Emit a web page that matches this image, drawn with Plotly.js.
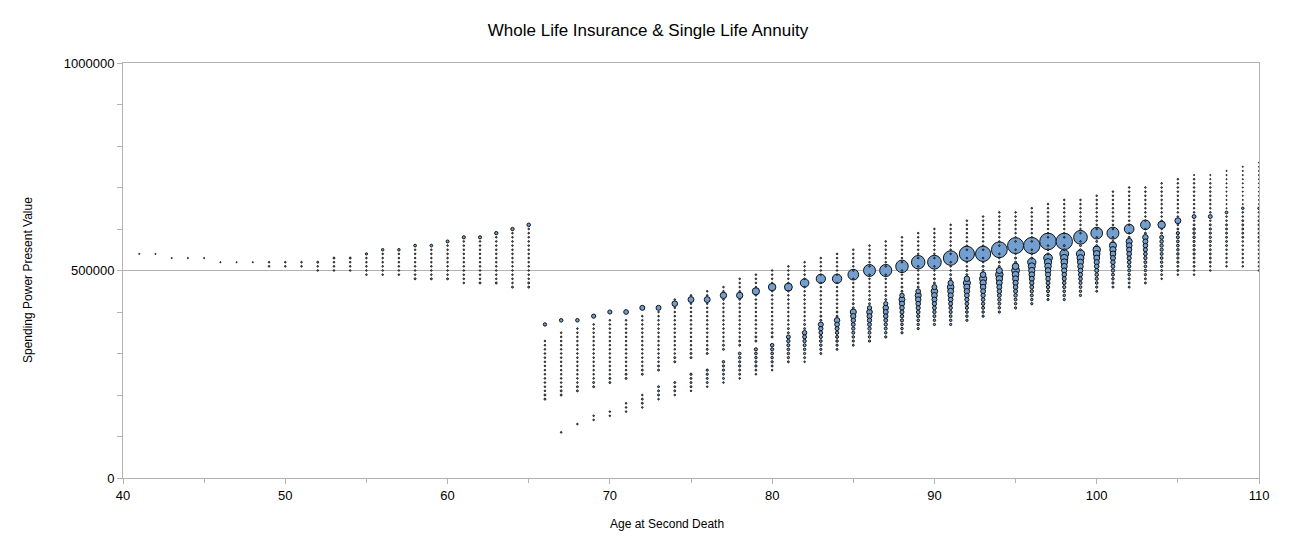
<!DOCTYPE html>
<html>
<head>
<meta charset="utf-8">
<script src="https://cdn.plot.ly/plotly-3.0.1.min.js"></script>
<style>
html,body{margin:0;padding:0;background:#fff;}
#chart{width:1296px;height:552px;}
</style>
</head>
<body>
<div id="chart"></div>
<script>
// Age at second death (one column of bins per age)
const ages = [41,42,43,44,45,46,47,48,49,50,51,52,53,54,55,56,57,58,59,60,61,62,63,64,65,
  66,67,68,69,70,71,72,73,74,75,76,77,78,79,80,81,82,83,84,85,86,87,88,89,90,
  91,92,93,94,95,96,97,98,99,100,101,102,103,104,105,106,107,108,109,110];

// Top bin of each column (present value, thousands)
const topValueK = [540,540,530,530,530,520,520,520,520,520,520,520,530,530,540,550,550,560,560,570,580,580,590,600,610,
  370,380,380,390,400,400,410,410,430,440,450,460,480,490,500,510,520,530,540,550,560,570,580,590,600,
  610,620,630,640,640,650,660,670,670,680,690,700,700,710,720,730,730,740,750,760];

// Bin width (thousands)
const binStepK = 10;

// Frequency of each bin, from the top bin downwards (0 = empty bin)
const binCounts = [
  [1],[1],[1],[1],[1],[1],[1],[1],
  [2,2],[2,2],[2,2],
  [3,2,2],
  [3,2,2,2],[3,2,2,2],
  [4,2,2,2,2,2],
  [5,2,2,2,2,2,2],[5,2,2,2,2,2,2],
  [6,2,2,2,2,2,2,2,3],[6,2,2,2,2,2,2,2,3],
  [7,2,2,2,2,2,2,2,2,3],
  [8,2,2,2,2,2,2,2,2,2,2,2],
  [8,2,2,2,2,2,2,2,2,2,2,3],
  [9,2,2,2,2,2,2,2,2,2,2,2,3],
  [9,2,2,2,2,2,2,2,2,2,2,2,2,2,3],
  [10,2,2,2,2,2,2,2,2,2,2,2,2,2,3,3],
  // 66
  [9,0,0,0,2,2,2,2,2,2,2,2,2,2,2,2,2,3,3],
  [10,0,0,2,2,2,2,2,2,2,2,2,2,2,2,2,2,3,3,0,0,0,0,0,0,0,0,2],
  [10,0,2,2,2,2,2,2,2,2,2,2,2,2,2,2,3,3,0,0,0,0,0,0,0,2],
  [14,0,2,2,2,2,2,2,2,2,2,2,2,2,2,2,3,3,0,0,0,0,0,0,2,2],
  [14,0,2,2,2,2,2,2,2,2,2,2,2,2,2,2,3,3,0,0,0,0,0,0,2,2],
  [18,0,2,2,2,2,2,2,2,2,2,2,2,2,2,3,3,0,0,0,0,0,2,2,2],
  [20,0,2,2,2,2,2,2,2,2,2,2,2,2,2,3,3,0,0,0,0,2,3,3,2],
  [20,2,2,2,2,2,2,2,2,2,2,2,2,2,3,3,0,0,0,3,3,3,2],
  [2,25,2,2,2,2,2,2,2,2,2,2,2,2,3,3,0,0,0,0,3,3,3,2],
  [2,28,2,2,2,2,2,2,2,2,2,2,2,2,3,3,0,0,0,4,3,3,3,2],
  // 76
  [2,2,28,2,2,2,2,2,2,2,2,2,2,2,3,3,0,0,0,4,4,3,3,2],
  [2,2,32,2,2,2,2,2,2,2,2,2,2,2,3,3,0,0,5,4,4,3,3,2],
  [2,2,2,2,32,2,2,2,2,2,2,2,2,2,2,3,3,0,6,5,4,4,3,3,2],
  [2,2,2,2,42,2,2,2,2,2,2,2,2,2,2,3,3,0,8,6,5,4,4,3,2],
  [2,2,2,2,45,2,2,2,2,2,2,2,2,2,2,3,3,0,10,8,6,5,4,3,2],
  [2,2,2,2,2,50,2,2,2,2,2,2,2,2,2,3,3,12,9,7,6,5,4,3],
  [2,2,2,2,2,58,2,2,2,2,2,2,2,2,2,3,3,16,12,9,7,5,4,3,2],
  [2,2,2,2,2,68,2,2,2,2,2,2,2,2,3,3,20,15,11,8,6,5,4,3],
  [2,2,2,2,2,2,70,2,2,2,2,2,2,2,3,3,24,18,13,9,7,5,4,3],
  [2,2,2,2,2,2,92,2,2,2,2,2,2,3,3,30,22,16,12,9,7,5,4,3],
  // 86
  [2,2,2,2,2,2,115,2,2,2,2,2,2,3,3,15,25,20,15,12,9,7,5,4],
  [2,2,2,2,2,2,2,118,2,2,2,2,2,3,3,14,24,20,16,12,9,7,5,4],
  [2,2,2,2,2,2,2,125,2,2,2,2,3,3,16,28,22,17,13,10,8,6,5,4],
  [2,2,2,2,2,2,2,145,2,2,2,2,3,3,18,30,24,18,14,11,8,6,5,4],
  [2,2,2,2,2,2,2,2,150,2,2,2,3,3,20,34,26,20,15,12,9,7,5,4],
  [2,2,2,2,2,2,2,2,170,2,2,2,3,3,22,36,28,22,17,13,10,8,6,5,4],
  [2,2,2,2,2,2,2,2,185,2,2,2,3,3,24,40,30,24,18,14,11,8,6,5,4],
  [2,2,2,2,2,2,2,2,2,185,2,2,3,3,26,42,32,25,19,15,11,9,7,5,4],
  [2,2,2,2,2,2,2,2,2,200,2,2,3,3,30,46,34,27,20,16,12,9,7,5,4],
  [2,2,2,2,2,2,2,2,205,2,2,3,3,34,50,36,28,22,17,13,10,7,5,4],
  // 96
  [2,2,2,2,2,2,2,2,2,215,2,3,3,55,40,32,26,20,15,12,9,7,5,4],
  [2,2,2,2,2,2,2,2,2,220,2,3,3,60,42,34,27,21,16,12,9,7,5,4],
  [2,2,2,2,2,2,2,2,2,2,215,3,3,62,44,36,28,22,17,13,10,8,6,5,4],
  [2,2,2,2,2,2,2,2,2,150,2,3,3,55,38,30,24,18,14,11,8,6,5,4],
  [2,2,2,2,2,2,2,2,2,110,2,3,3,45,36,28,22,17,13,10,8,6,4,3],
  [2,2,2,2,2,2,2,2,2,2,115,2,3,40,32,26,20,16,12,9,7,5,4,3],
  [2,2,2,2,2,2,2,2,2,2,75,2,3,30,26,22,18,14,11,9,7,5,4,3,3],
  [2,2,2,2,2,2,2,2,2,75,2,3,24,20,17,14,11,9,7,6,5,4,3,3],
  [2,2,2,2,2,2,2,2,2,2,45,2,3,12,10,9,8,7,6,5,4,3,3,2],
  [2,2,2,2,2,2,2,2,2,2,28,2,3,8,7,6,6,5,5,4,4,3,3,2],
  // 106
  [1,2,2,2,2,2,2,2,2,2,12,2,3,5,5,5,4,4,4,4,3,3,3,2,2],
  [1,1,2,2,2,2,2,2,2,2,12,2,3,4,4,4,4,3,3,3,3,3,2,2],
  [1,1,1,1,1,1,1,1,1,1,6,2,2,3,3,3,3,3,3,2,2,2,2,2],
  [1,1,1,1,1,1,1,1,1,1,5,2,2,3,3,3,3,3,2,2,2,2,2,2,2],
  [1,1,1,1,1,1,1,1,1,1,1,5,2,2,3,3,3,3,3,3,2,2,2,2,2,2,2]
];

// Flatten bins into points
const pts = [];
ages.forEach((age, i) => {
  binCounts[i].forEach((c, j) => {
    if (c > 0) pts.push({x: age, y: (topValueK[i] - j * binStepK) * 1000, s: c});
  });
});
// larger bubbles underneath, small ones on top
pts.sort((a, b) => b.s - a.s);

const trace = {
  type: 'scatter',
  mode: 'markers',
  x: pts.map(p => p.x),
  y: pts.map(p => p.y),
  marker: {
    size: pts.map(p => p.s),
    sizemode: 'area',
    sizeref: 1.6,
    sizemin: 0.4,
    color: '#729fcf',
    opacity: 1,
    line: {color: '#111111', width: 1}
  },
  hoverinfo: 'skip',
  showlegend: false
};

const axisGrey = '#b3b3b3';
const fontFam = 'Liberation Sans, Arial, sans-serif';
const layout = {
  width: 1296,
  height: 552,
  margin: {l: 123, r: 37, t: 63, b: 74},
  paper_bgcolor: '#ffffff',
  plot_bgcolor: '#ffffff',
  font: {family: fontFam, color: '#000000', size: 13},
  title: {
    text: 'Whole Life Insurance & Single Life Annuity',
    font: {size: 17, family: fontFam, color: '#000000'},
    x: 0.5, xref: 'container', xanchor: 'center',
    y: 1 - 30 / 552, yref: 'container', yanchor: 'middle'
  },
  xaxis: {
    range: [40, 110],
    dtick: 10, tick0: 40,
    ticks: 'outside', ticklen: 5, tickcolor: axisGrey, tickwidth: 1,
    minor: {dtick: 5, ticks: 'outside', ticklen: 4, tickcolor: axisGrey, showgrid: false},
    showline: true, linecolor: axisGrey, linewidth: 1, mirror: true,
    showgrid: false, zeroline: false,
    tickfont: {size: 13, color: '#000000'},
    fixedrange: true
  },
  yaxis: {
    range: [0, 1000000],
    dtick: 500000, tick0: 0,
    tickformat: 'd',
    ticks: 'outside', ticklen: 5, tickcolor: axisGrey, tickwidth: 1,
    minor: {dtick: 100000, ticks: 'outside', ticklen: 5, tickcolor: axisGrey, showgrid: false},
    showline: true, linecolor: axisGrey, linewidth: 1, mirror: true,
    showgrid: true, gridcolor: axisGrey, gridwidth: 1, zeroline: false,
    tickfont: {size: 13, color: '#000000'},
    fixedrange: true
  },
  annotations: [
    {
      text: 'Age at Second Death', showarrow: false,
      xref: 'paper', yref: 'paper',
      x: (667 - 123) / 1136, y: -(524 - 478) / 415,
      xanchor: 'center', yanchor: 'middle',
      font: {size: 12, family: fontFam, color: '#000000'}
    },
    {
      text: 'Spending Power Present Value', showarrow: false, textangle: -90,
      xref: 'paper', yref: 'paper',
      x: -(123 - 28) / 1136, y: (478 - 280) / 415,
      xanchor: 'center', yanchor: 'middle',
      font: {size: 12, family: fontFam, color: '#000000'}
    }
  ]
};

Plotly.newPlot('chart', [trace], layout, {staticPlot: true, displayModeBar: false});
</script>
</body>
</html>
